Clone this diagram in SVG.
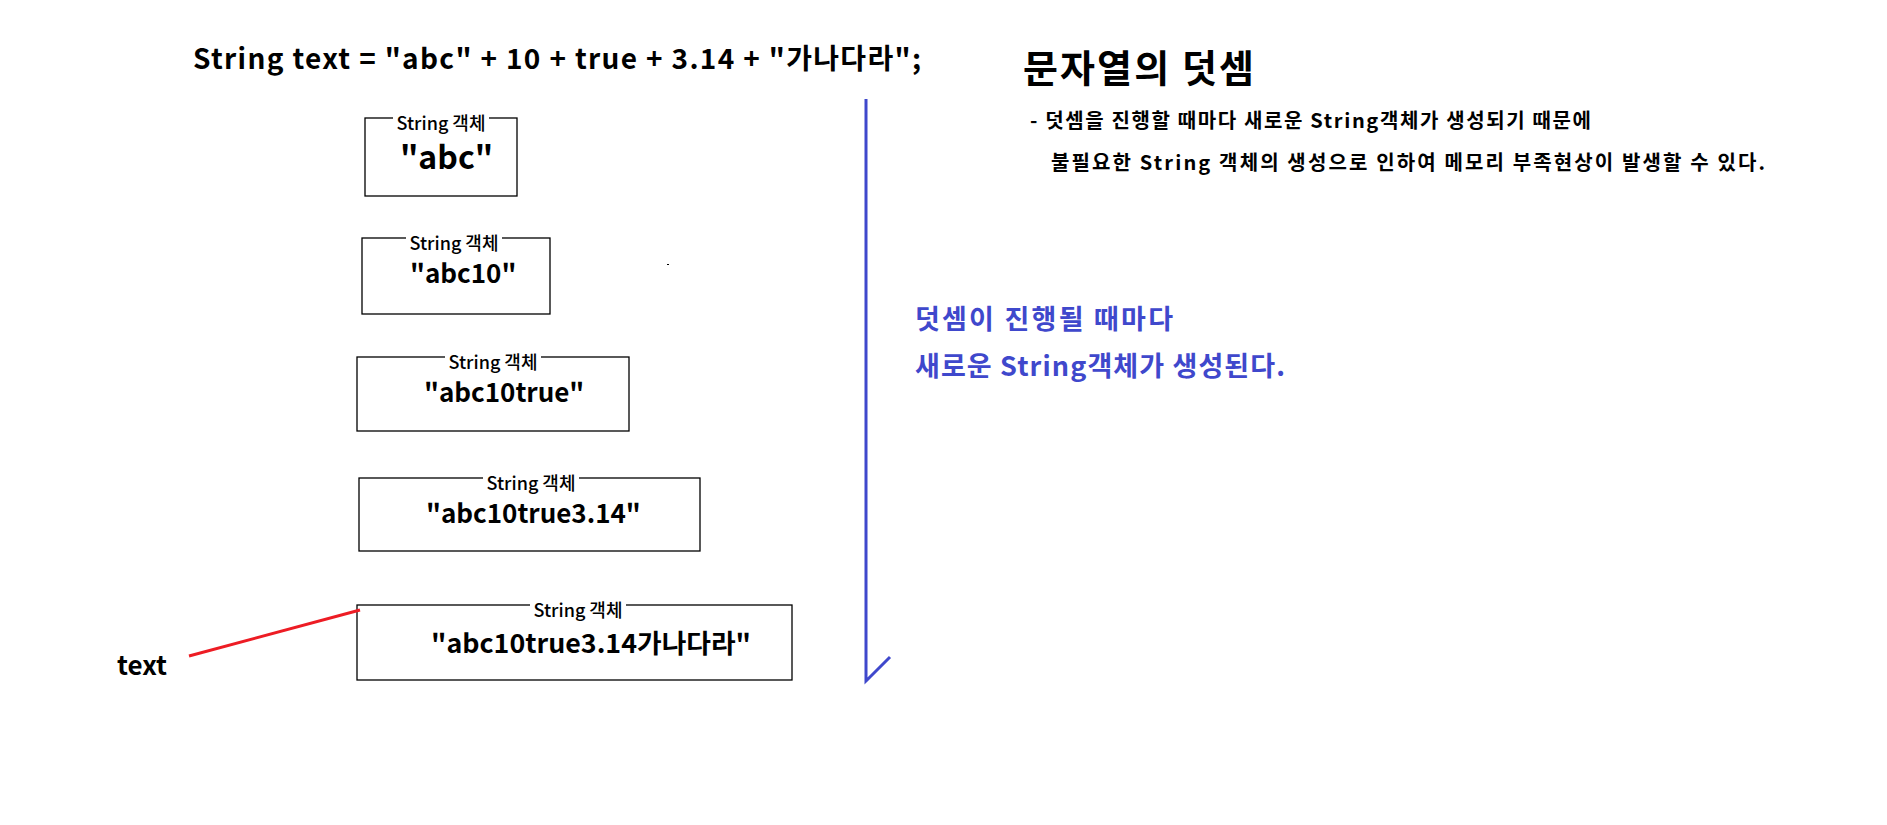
<svg xmlns="http://www.w3.org/2000/svg" width="1887" height="825" viewBox="0 0 1887 825">
<style>
text{font-family:"Noto Sans CJK KR","Noto Sans",sans-serif;fill:#000}
.title{font-size:28px;font-weight:700}
.box{fill:none;stroke:#000;stroke-width:1.3}
.lbl{font-size:18px;font-weight:500;text-anchor:middle}
.lblbg{fill:#fff}
.val{font-size:26px;font-weight:700}
.head{font-size:38px;font-weight:700}
.desc{font-size:20px;font-weight:700}
.blue{font-size:27px;font-weight:700;fill:#3f48cc}
.bl{stroke:#3f48cc;stroke-width:3;fill:none}
.rd{stroke:#ed1c24;stroke-width:3;fill:none}
</style>
<rect width="1887" height="825" fill="#fff"/>
<g id="code"><text class="title" x="193" y="69" textLength="728" lengthAdjust="spacing">String text = "abc" + 10 + true + 3.14 + "가나다라";</text></g>
<g id="obj1">
<rect class="box" x="365" y="118" width="152" height="78"/>
<rect class="lblbg" x="393" y="110" width="96" height="16"/>
<text class="lbl" x="441" y="130">String 객체</text>
<text class="val" x="400" y="169" style="font-size:32px">"abc"</text>
</g>
<g id="obj2">
<rect class="box" x="362" y="238" width="188" height="76"/>
<rect class="lblbg" x="406" y="230" width="96" height="16"/>
<text class="lbl" x="454" y="250">String 객체</text>
<text class="val" x="410" y="283">"abc10"</text>
</g>
<g id="obj3">
<rect class="box" x="357" y="357" width="272" height="74"/>
<rect class="lblbg" x="445" y="349" width="96" height="16"/>
<text class="lbl" x="493" y="369">String 객체</text>
<text class="val" x="424" y="402">"abc10true"</text>
</g>
<g id="obj4">
<rect class="box" x="359" y="478" width="341" height="73"/>
<rect class="lblbg" x="483" y="470" width="96" height="16"/>
<text class="lbl" x="531" y="490">String 객체</text>
<text class="val" x="426" y="523">"abc10true3.14"</text>
</g>
<g id="obj5">
<rect class="box" x="357" y="605" width="435" height="75"/>
<rect class="lblbg" x="530" y="597" width="96" height="16"/>
<text class="lbl" x="578" y="617">String 객체</text>
<text class="val" x="431" y="653" textLength="320" lengthAdjust="spacingAndGlyphs">"abc10true3.14가나다라"</text>
</g>
<g id="var"><text class="val" x="117" y="675">text</text></g>
<rect x="667" y="264" width="2" height="1" fill="#000"/>
<g id="notes">
<text class="head" x="1023" y="82" textLength="231" lengthAdjust="spacing">문자열의 덧셈</text>
<text class="desc" x="1030" y="128" textLength="561" lengthAdjust="spacing">- 덧셈을 진행할 때마다 새로운 String객체가 생성되기 때문에</text>
<text class="desc" x="1051" y="170" textLength="714" lengthAdjust="spacing">불필요한 String 객체의 생성으로 인하여 메모리 부족현상이 발생할 수 있다.</text>
<text class="blue" x="915" y="329" textLength="258" lengthAdjust="spacing">덧셈이 진행될 때마다</text>
<text class="blue" x="915" y="376" textLength="370" lengthAdjust="spacing">새로운 String객체가 생성된다.</text>
</g>
<g id="connectors">
<path class="bl" d="M866 99 V681 L890 657"/>
<path class="rd" d="M189 656 L360 610"/>
</g>
</svg>
